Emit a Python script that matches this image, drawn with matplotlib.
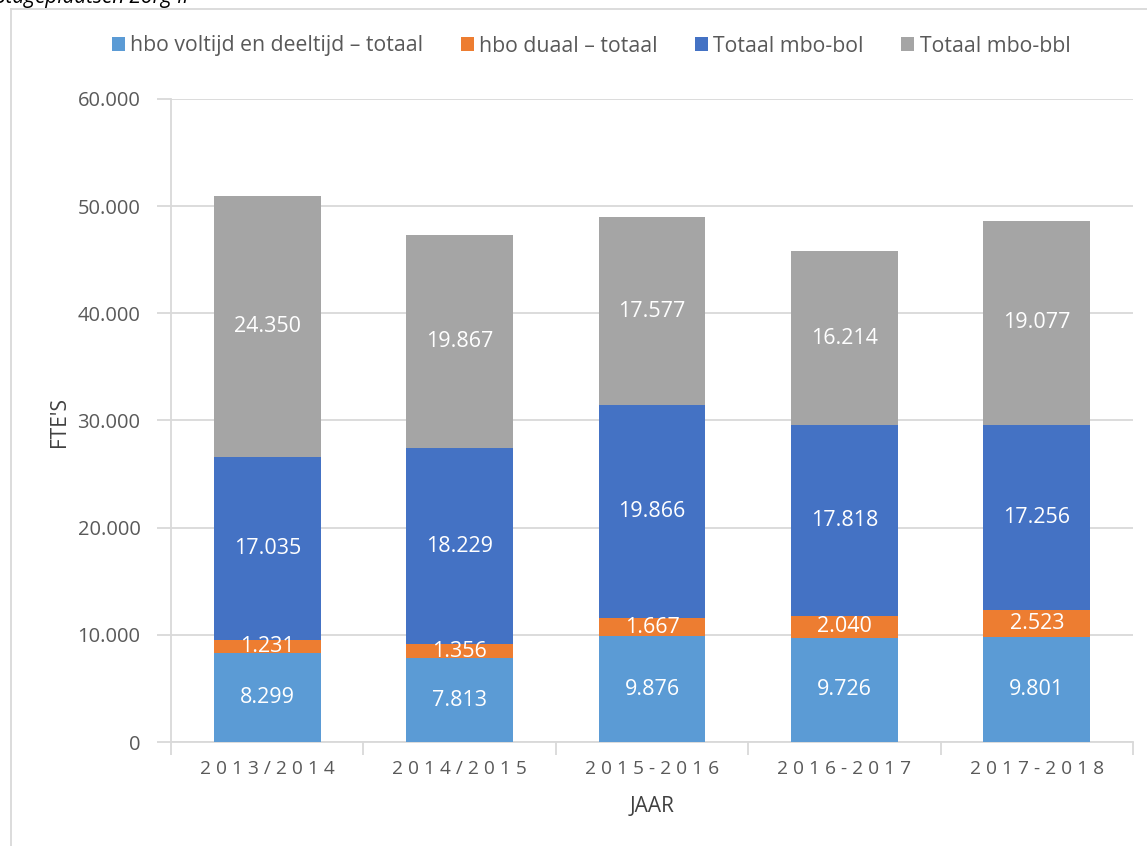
import matplotlib
matplotlib.use("Agg")
import matplotlib.pyplot as plt
from matplotlib.lines import Line2D
import numpy as np

plt.rcParams['font.family'] = ['Open Sans', 'DejaVu Sans']

years = ["2013/2014", "2014/2015", "2015-2016", "2016-2017", "2017-2018"]
series_names = ["hbo voltijd en deeltijd \u2013 totaal", "hbo duaal \u2013 totaal",
                "Totaal mbo-bol", "Totaal mbo-bbl"]
hbo_voltijd = [8299, 7813, 9876, 9726, 9801]
hbo_duaal = [1231, 1356, 1667, 2040, 2523]
mbo_bol = [17035, 18229, 19866, 17818, 17256]
mbo_bbl = [24350, 19867, 17577, 16214, 19077]
colors = ["#5B9BD5", "#ED7D31", "#4472C4", "#A5A5A5"]

W, H = 1147, 846
fig = plt.figure(figsize=(W / 100, H / 100), dpi=100)
ax = fig.add_axes([171 / W, 1 - 742 / H, (1133 - 171) / W, (742 - 99) / H])

x = np.arange(len(years))
bottom = np.zeros(len(years))
handles = []
for vals, name, col in zip([hbo_voltijd, hbo_duaal, mbo_bol, mbo_bbl], series_names, colors):
    vals = np.array(vals, dtype=float)
    bars = ax.bar(x, vals, width=0.556, bottom=bottom, color=col, label=name, zorder=3)
    handles.append(bars)
    for xi, b, v in zip(x, bottom, vals):
        lab = f"{int(v):,}".replace(",", ".")
        ax.text(xi, b + v / 2, lab, ha='center', va='center', color='white',
                fontsize=15.5, zorder=4)
    bottom += vals

ax.set_xlim(-0.5, len(years) - 0.5)
ax.set_ylim(0, 60000)
yt = np.arange(0, 60001, 10000)
ax.set_yticks(yt)
ax.set_yticklabels([f"{int(v):,}".replace(",", ".") for v in yt], fontsize=14.5, color='#595959')
ax.yaxis.grid(True, color='#D9D9D9', linewidth=1.3, zorder=0)
ax.set_axisbelow(True)
for s in ['top', 'right']:
    ax.spines[s].set_visible(False)
for s in ['left', 'bottom']:
    ax.spines[s].set_color('#D9D9D9')
    ax.spines[s].set_linewidth(1.3)
ax.tick_params(axis='y', length=10, color='#D9D9D9', width=1.3, pad=12)

# x ticks: labels centered, tick marks at boundaries
ax.set_xticks(x)
ax.set_xticklabels(["\u2009\u200a".join(list(y)) for y in years], fontsize=13.8, color='#595959')
ax.tick_params(axis='x', length=0, pad=13)
ax.set_xticks(np.arange(-0.5, len(years) + 0.5, 1), minor=True)
ax.tick_params(axis='x', which='minor', length=9, color='#D9D9D9', width=1.3)

fig.text(60 / W, 1 - 422 / H, "FTE'S", rotation=90, ha='center', va='center',
         fontsize=15, color='#404040')
fig.text(652 / W, 1 - 806 / H, "JAAR", ha='center', va='center',
         fontsize=15, color='#404040')

leg = fig.legend(handles=handles, labels=series_names, loc='center', ncol=4,
                 bbox_to_anchor=(591 / W, 1 - 46 / H), frameon=False,
                 fontsize=15.3, handlelength=0.62, handleheight=0.62,
                 handletextpad=0.25, columnspacing=1.75, labelcolor='#595959')

# chart border (left and top visible)
fig.add_artist(Line2D([11 / W, 11 / W], [0, 1 - 9 / H], transform=fig.transFigure,
                      color='#D9D9D9', linewidth=1.3))
fig.add_artist(Line2D([11 / W, 1], [1 - 9 / H, 1 - 9 / H], transform=fig.transFigure,
                      color='#D9D9D9', linewidth=1.3))

fig.text(-0.004, 1 - 3 / H, "Stageplaatsen Zorg II", fontsize=15, style='italic',
         color='#000000', va='baseline', ha='left')

fig.savefig("out.png", dpi=100)
